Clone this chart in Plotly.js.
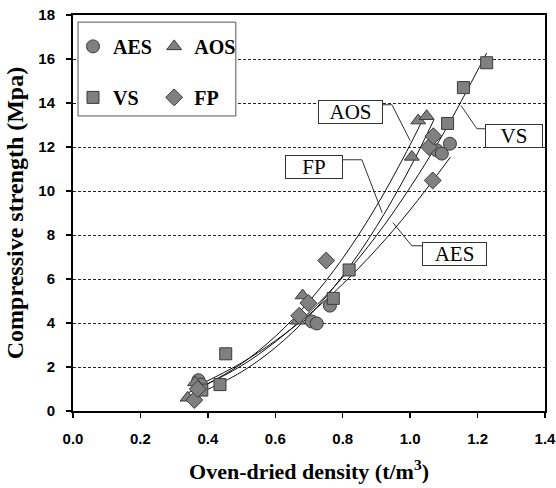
<!DOCTYPE html>
<html>
<head>
<meta charset="utf-8">
<script src="https://cdn.plot.ly/plotly-3.0.1.min.js"></script>
<style>html,body{margin:0;padding:0;background:#fff;}#chart{width:556px;height:488px;}</style>
</head>
<body>
<div id="chart"></div>
<script>
// Measured points
const aesX = [0.372, 0.38, 0.708, 0.723, 0.762, 1.079, 1.094, 1.118];
const aesY = [1.4, 1.2, 4.07, 3.98, 4.79, 11.85, 11.7, 12.15];
const aosX = [0.34, 0.362, 0.667, 0.681, 1.005, 1.024, 1.049];
const aosY = [0.6, 1.3, 4.1, 5.25, 11.55, 13.2, 13.4];
const vsX = [0.382, 0.436, 0.453, 0.772, 0.819, 1.111, 1.158, 1.227];
const vsY = [0.95, 1.2, 2.6, 5.12, 6.41, 13.07, 14.7, 15.83];
const fpX = [0.36, 0.37, 0.671, 0.698, 0.751, 1.056, 1.067, 1.069];
const fpY = [0.5, 1.0, 4.33, 4.91, 6.84, 12.0, 10.48, 12.49];

// Trend curves
const aosFitX = [0.34, 0.40, 0.50, 0.60, 0.70, 0.80, 0.90, 1.00, 1.05];
const aosFitY = [0.82, 1.24, 2.15, 3.39, 4.98, 6.94, 9.31, 12.1, 13.66];
const aesFitX = [0.37, 0.40, 0.50, 0.60, 0.70, 0.80, 0.90, 1.00, 1.12];
const aesFitY = [1.18, 1.38, 2.19, 3.19, 4.38, 5.77, 7.35, 9.14, 11.55];
const vsFitX = [0.38, 0.40, 0.50, 0.60, 0.70, 0.80, 0.90, 1.00, 1.10, 1.227];
const vsFitY = [1.10, 1.24, 2.06, 3.14, 4.47, 6.08, 7.97, 10.16, 12.65, 16.27];
const fpFitX = [0.36, 0.40, 0.50, 0.60, 0.70, 0.80, 0.90, 1.00, 1.07];
const fpFitY = [0.75, 0.99, 1.78, 2.88, 4.32, 6.14, 8.38, 11.06, 13.22];

const xTicks = [0, 0.2, 0.4, 0.6, 0.8, 1.0, 1.2, 1.4];
const yTicks = [0, 2, 4, 6, 8, 10, 12, 14, 16, 18];

const fill = '#808080', edge = '#3a3a3a';
function pts(x, y, name, symbol, size, legend) {
  return {x: x, y: y, name: name, type: 'scatter', mode: 'markers', legend: legend,
    legendgroup: name,
    marker: {symbol: symbol, size: size, color: fill, line: {color: edge, width: 1}}};
}
function fit(x, y) {
  return {x: x, y: y, type: 'scatter', mode: 'lines', showlegend: false, hoverinfo: 'skip',
    line: {color: '#111', width: 1, shape: 'spline'}};
}
const data = [
  fit(aosFitX, aosFitY), fit(aesFitX, aesFitY), fit(vsFitX, vsFitY), fit(fpFitX, fpFitY),
  pts(aesX, aesY, 'AES', 'circle', 13, 'legend'),
  pts(vsX, vsY, 'VS', 'square', 12, 'legend'),
  pts(aosX, aosY, 'AOS', 'triangle-up', 13, 'legend2'),
  pts(fpX, fpY, 'FP', 'diamond', 13, 'legend2')
];

const serif = 'Liberation Serif, Times New Roman, serif';
const sans = 'Liberation Sans, Arial, sans-serif';
const legFont = {family: serif, size: 20, color: '#000', weight: 'bold'};
const legCommon = {font: legFont, bgcolor: 'rgba(0,0,0,0)', borderwidth: 0,
  traceorder: 'grouped', tracegroupgap: 22, itemwidth: 30, yanchor: 'top', xanchor: 'left',
  xref: 'paper', yref: 'paper'};

function label(txt, x, y, w) {
  return {text: txt, x: x, y: y, xref: 'x', yref: 'y', showarrow: false,
    font: {family: serif, size: 21, color: '#000'}, bgcolor: '#fff',
    bordercolor: '#333', borderwidth: 1, borderpad: 1, width: w, height: 20};
}
function leader(path) {
  return {type: 'path', xref: 'x', yref: 'y', path: path, line: {color: '#333', width: 1}, layer: 'above'};
}

const layout = {
  width: 556, height: 488,
  margin: {l: 73, r: 11, t: 15, b: 77},
  paper_bgcolor: '#fff', plot_bgcolor: '#fff',
  showlegend: true,
  legend: Object.assign({x: 0.0, y: 0.97}, legCommon),
  legend2: Object.assign({x: 0.172, y: 0.97}, legCommon),
  xaxis: {range: [0, 1.4], tickvals: xTicks, tickformat: '.1f', showgrid: false, zeroline: false,
    showline: true, linecolor: '#000', linewidth: 2, mirror: true, ticklabeloverflow: 'allow',
    ticks: 'outside', ticklen: 5, tickwidth: 1.5, tickcolor: '#000', ticklabelstandoff: 8,
    tickfont: {family: sans, size: 15, color: '#000', weight: 'bold'},
    title: {text: 'Oven-dried density (t/m<sup>3</sup>)', standoff: 18,
      font: {family: serif, size: 22, color: '#000', weight: 'bold'}}},
  yaxis: {range: [0, 18], tickvals: yTicks, showgrid: true, gridcolor: '#222', gridwidth: 1, griddash: '3px,2px',
    zeroline: false, showline: true, linecolor: '#000', linewidth: 2, mirror: true,
    ticks: 'outside', ticklen: 5, tickwidth: 1.5, tickcolor: '#000', ticklabelstandoff: 8,
    tickfont: {family: sans, size: 15, color: '#000', weight: 'bold'},
    title: {text: 'Compressive strength (Mpa)', standoff: 8,
      font: {family: serif, size: 24, color: '#000', weight: 'bold'}}},
  shapes: [
    {type: 'rect', xref: 'paper', yref: 'paper', x0: 0.0106, x1: 0.345, y0: 0.745, y1: 0.982,
     fillcolor: '#fff', line: {color: '#555', width: 1}, layer: 'above'},
    leader('M 0.919,13.92 L 0.946,13.92 L 1.0,12.29'),
    leader('M 0.801,11.42 L 0.857,11.42 L 0.917,9.01'),
    leader('M 0.949,8.56 L 1.005,7.51 L 1.038,7.51'),
    leader('M 1.222,12.83 L 1.198,12.83 L 1.151,13.88')
  ],
  annotations: [
    label('AOS', 0.824, 13.59, 61),
    label('FP', 0.7154, 11.07, 54),
    label('AES', 1.133, 7.13, 61),
    label('VS', 1.308, 12.48, 54)
  ]
};
Plotly.newPlot('chart', data, layout, {displayModeBar: false, staticPlot: true});
</script>
</body>
</html>
